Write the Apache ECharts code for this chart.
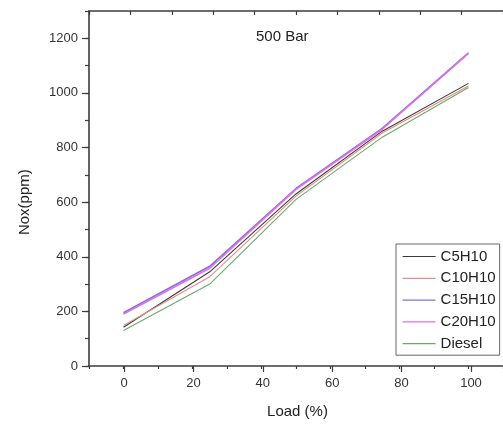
<!DOCTYPE html>
<html>
<head>
<meta charset="utf-8">
<script src="https://cdn.jsdelivr.net/npm/echarts@6/dist/echarts.min.js"></script>
<style>html,body{margin:0;padding:0;background:#fff}#c{width:503px;height:424px}</style>
</head>
<body>
<div id="c"></div>
<script>
var load = [0, 25, 50, 75, 100];
var seriesNames = ['C5H10', 'C10H10', 'C15H10', 'C20H10', 'Diesel'];
var C5H10 = [142, 345, 630, 860, 1035];
var C10H10 = [148, 327, 622, 853, 1025];
var C15H10 = [195, 365, 650, 870, 1147];
var C20H10 = [190, 358, 647, 867, 1145];
var Diesel = [130, 300, 610, 838, 1020];
var xTickLabels = [0, 20, 40, 60, 80, 100];
var yTickLabels = [0, 200, 400, 600, 800, 1000, 1200];

var values = [C5H10, C10H10, C15H10, C20H10, Diesel];
var colors = ['#3a3a3a', '#e88a8c', '#8470d8', '#e070ea', '#6aaa6a'];
var widths = [1.1, 1.1, 1.6, 1.6, 1.1];
var FONT = 'Liberation Sans, Arial, sans-serif';
var AX = '#3c3c3c';

var chart = echarts.init(document.getElementById('c'));
var series = seriesNames.map(function (n, i) {
  return {
    name: n, type: 'line', xAxisIndex: 0, yAxisIndex: 0,
    symbol: 'none', smooth: false,
    lineStyle: { color: colors[i], width: widths[i] },
    itemStyle: { color: colors[i] },
    data: load.map(function (x, j) { return [x, values[i][j]]; })
  };
});

chart.setOption({
  animation: false,
  backgroundColor: '#fff',
  textStyle: { fontFamily: FONT },
  title: {
    text: '500 Bar', left: 251, top: 24,
    textStyle: { fontFamily: FONT, fontSize: 15, fontWeight: 'normal', color: '#222' }
  },
  legend: {
    orient: 'vertical', left: 396, top: 244,
    width: 105,
    padding: [5, 4, 4, 6],
    borderColor: '#666', borderWidth: 1,
    itemWidth: 33, itemHeight: 14, itemGap: 6.8,
    itemStyle: { opacity: 0 },
    lineStyle: { width: 1.2 },
    textStyle: { fontFamily: FONT, fontSize: 15, color: '#222' },
    data: seriesNames
  },
  grid: [
    { left: 89, top: 11, width: 417, bottom: 58 },
    { left: 124, top: 11, width: 347, bottom: 58 },
    { left: 89, top: 38.3, width: 417, bottom: 58 }
  ],
  xAxis: [
    { gridIndex: 0, type: 'value', min: -10, max: 110, interval: 10,
      axisLine: { onZero: false, lineStyle: { color: AX, width: 1.6 } },
      axisTick: { show: true, length: 3, lineStyle: { color: AX, width: 1.2 } },
      axisLabel: { show: false }, splitLine: { show: false } },
    { gridIndex: 0, type: 'value', position: 'top', min: 0, max: 10, interval: 1,
      axisLine: { onZero: false, lineStyle: { color: AX, width: 1.6 } },
      axisTick: { show: true, inside: true, length: 4, lineStyle: { color: AX, width: 1.2 } },
      axisLabel: { show: false }, splitLine: { show: false } },
    { gridIndex: 1, type: 'value', min: 0, max: 100, interval: 20,
      axisLine: { show: false, onZero: false },
      axisTick: { show: true, length: 6, lineStyle: { color: AX, width: 1.2 } },
      axisLabel: { show: true, margin: 11, fontSize: 13, fontFamily: FONT, color: '#333',
        formatter: function (v) { return xTickLabels.indexOf(v) >= 0 ? String(v) : ''; } },
      splitLine: { show: false },
      name: 'Load (%)', nameLocation: 'middle', nameGap: 38,
      nameTextStyle: { fontSize: 15, fontFamily: FONT, color: '#222' } },
    { gridIndex: 2, type: 'value', min: 0, max: 1, show: false }
  ],
  yAxis: [
    { gridIndex: 0, type: 'value', min: 0, max: 1300, interval: 100,
      axisLine: { show: true, onZero: false, lineStyle: { color: AX, width: 1.6 } },
      axisTick: { show: true, length: 4, lineStyle: { color: AX, width: 1.2 } },
      axisLabel: { show: false }, splitLine: { show: false } },
    { gridIndex: 1, type: 'value', min: 0, max: 1, show: false },
    { gridIndex: 2, type: 'value', min: 0, max: 1200, interval: 200,
      axisLine: { show: false, onZero: false },
      axisTick: { show: true, length: 7, lineStyle: { color: AX, width: 1.2 } },
      axisLabel: { show: true, margin: 11, fontSize: 13, fontFamily: FONT, color: '#333',
        formatter: function (v) { return yTickLabels.indexOf(v) >= 0 ? String(v) : ''; } },
      splitLine: { show: false },
      name: 'Nox(ppm)', nameLocation: 'middle', nameGap: 57,
      nameTextStyle: { fontSize: 15, fontFamily: FONT, color: '#222' } }
  ],
  series: series
});
</script>
</body>
</html>
